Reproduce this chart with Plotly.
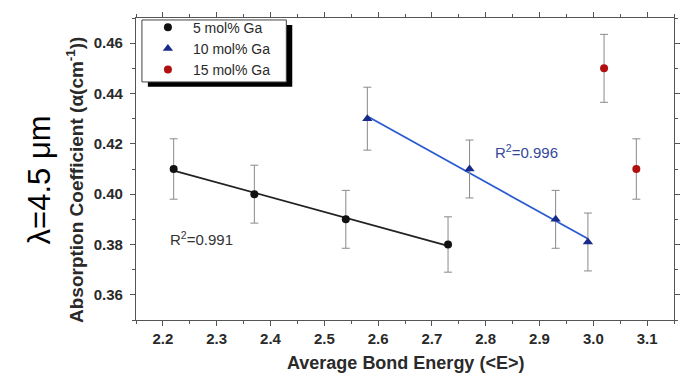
import numpy as np
import plotly.graph_objects as go

# Data
x5 = [2.22, 2.37, 2.54, 2.73]
y5 = [0.410, 0.400, 0.390, 0.380]
e5 = [0.012, 0.0115, 0.0115, 0.011]

x10 = [2.58, 2.77, 2.93, 2.99]
y10 = [0.430, 0.410, 0.390, 0.381]
e10 = [0.0125, 0.0115, 0.0115, 0.0115]

x15 = [3.02, 3.08]
y15 = [0.450, 0.410]
e15 = [0.0135, 0.012]

names = ["5 mol% Ga", "10 mol% Ga", "15 mol% Ga"]
r2_labels = ["R<sup>2</sup>=0.991", "R<sup>2</sup>=0.996"]
xticks = [2.2, 2.3, 2.4, 2.5, 2.6, 2.7, 2.8, 2.9, 3.0, 3.1]
yticks = [0.36, 0.38, 0.40, 0.42, 0.44, 0.46]

FONT = "Liberation Sans, Arial, sans-serif"
AX = "#555555"
ERR = "#8a8a8a"
TXT = "#2a2a2a"

# Plot area geometry (px)
L, R, T, B = 136, 680, 13, 320
W, H = R - L, B - T
def px(x): return (x - L) / W
def py(y): return (B - y) / H

fig = go.Figure()

# Fit lines
for xs, ys, col in [(x5, y5, "#222222"), (x10, y10, "#2a5bd0")]:
    p = np.polyfit(xs, ys, 1)
    xl = np.array([min(xs), max(xs)])
    fig.add_trace(go.Scatter(x=xl, y=np.polyval(p, xl), mode="lines",
                             line=dict(color=col, width=1.8), showlegend=False,
                             hoverinfo="skip"))

def add_pts(xs, ys, es, name, color, symbol, size):
    fig.add_trace(go.Scatter(
        x=xs, y=ys, mode="markers", name=name,
        marker=dict(color=color, symbol=symbol, size=size),
        error_y=dict(type="data", array=es, visible=True, color=ERR,
                     thickness=1, width=4)))

add_pts(x5, y5, e5, names[0], "#111111", "circle", 8)
add_pts(x10, y10, e10, names[1], "#1a2a8a", "triangle-up", 9)
add_pts(x15, y15, e15, names[2], "#b01010", "circle", 8)

axis_common = dict(showline=True, linecolor=AX, linewidth=1.2, mirror="ticks",
                   ticks="outside", tickcolor=AX, ticklen=5, tickwidth=1.2,
                   showgrid=False, zeroline=False,
                   tickfont=dict(family=FONT, size=15, color=TXT))

fig.update_layout(
    width=692, height=379,
    margin=dict(l=L, r=692 - R, t=T, b=379 - B),
    plot_bgcolor="white", paper_bgcolor="white",
    xaxis=dict(range=[2.15, 3.15], tickvals=xticks,
               ticktext=[f"<b>{v:.1f}</b>" for v in xticks],
               minor=dict(ticks="outside", ticklen=3, tickcolor=AX, dtick=0.05),
               **axis_common),
    yaxis=dict(range=[0.35, 0.47], tickvals=yticks,
               ticktext=[f"<b>{v:.2f}</b>" for v in yticks],
               minor=dict(ticks="outside", ticklen=3, tickcolor=AX, dtick=0.01),
               ticklabelstandoff=4,
               **axis_common),
    legend=dict(x=px(143), y=py(6.5), xanchor="left", yanchor="top",
                bgcolor="rgba(0,0,0,0)", borderwidth=0,
                font=dict(family=FONT, size=14, color=TXT),
                tracegroupgap=0, itemwidth=40,
                entrywidth=86, entrywidthmode="pixels"),
    showlegend=True,
)

# legend shadow and box (legend entries drawn on top)
fig.add_shape(type="rect", xref="paper", yref="paper",
              x0=px(148), x1=px(294), y0=py(83), y1=py(20),
              fillcolor="black", line=dict(width=0), layer="above")
fig.add_shape(type="rect", xref="paper", yref="paper",
              x0=px(142), x1=px(288), y0=py(78), y1=py(15),
              fillcolor="white", line=dict(width=1, color="#444444"), layer="above")

# axis titles
fig.add_annotation(xref="paper", yref="paper", x=px(408), y=py(364),
                   text="<b>Average Bond Energy (<E>)</b>", showarrow=False,
                   xanchor="center", yanchor="middle",
                   font=dict(family=FONT, size=18, color=TXT))
fig.add_annotation(xref="paper", yref="paper", x=px(75), y=py(178),
                   text="<b>Absorption Coefficient (α(cm<sup>-1</sup>))</b>",
                   textangle=-90, showarrow=False,
                   xanchor="center", yanchor="middle",
                   font=dict(family=FONT, size=19, color=TXT))

fig.add_annotation(x=2.271, y=0.3824, text=r2_labels[0], showarrow=False,
                   font=dict(family=FONT, size=15, color="#333333"))
fig.add_annotation(x=2.876, y=0.4168, text=r2_labels[1], showarrow=False,
                   font=dict(family=FONT, size=15, color="#34489a"))

fig.add_annotation(xref="paper", yref="paper", x=px(38), y=py(178),
                   text="λ=4.5 μm", textangle=-90, showarrow=False,
                   xanchor="center", yanchor="middle",
                   font=dict(family=FONT, size=31, color="black"))

fig.write_html("out.html")
